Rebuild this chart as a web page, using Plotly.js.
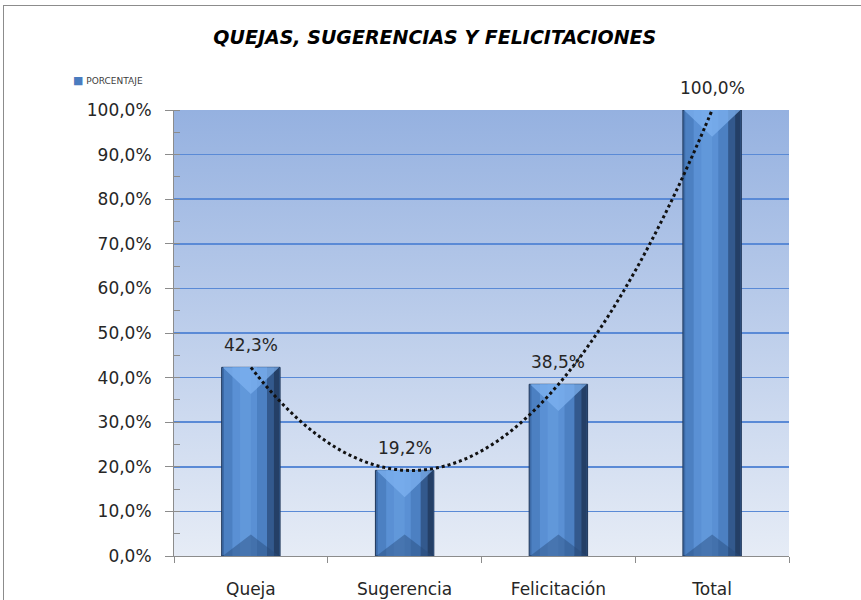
<!DOCTYPE html>
<html>
<head>
<meta charset="utf-8">
<script src="https://cdn.plot.ly/plotly-3.0.1.min.js"></script>
<style>
html,body{margin:0;padding:0;background:#fff;overflow:hidden;}
#frame{position:absolute;left:3px;top:5px;width:900px;height:700px;border-left:1px solid #8c8c8c;border-top:1px solid #8c8c8c;}
#chart{position:absolute;left:0;top:0;width:861px;height:600px;}
</style>
</head>
<body>
<div id="frame"></div>
<div id="chart"></div>
<script>
const categories = ["Queja", "Sugerencia", "Felicitación", "Total"];
const porcentaje = [42.3, 19.2, 38.5, 100.0];
const yTicks = [0, 10, 20, 30, 40, 50, 60, 70, 80, 90, 100];
const yTickText = yTicks.map(v => v.toFixed(1).replace(".", ",") + "%");
const seriesName = "PORCENTAJE";

// Quadratic (order-2 polynomial) trendline fitted to the data, as Excel does
function quadFit(xs, ys) {
  let S = [0,0,0,0,0], T = [0,0,0];
  for (let i = 0; i < xs.length; i++) {
    let p = 1;
    for (let k = 0; k < 5; k++) { S[k] += p; if (k < 3) T[k] += p * ys[i]; p *= xs[i]; }
  }
  const A = [[S[0],S[1],S[2],T[0]],[S[1],S[2],S[3],T[1]],[S[2],S[3],S[4],T[2]]];
  for (let c = 0; c < 3; c++) {
    for (let r = c + 1; r < 3; r++) {
      const f = A[r][c] / A[c][c];
      for (let k = c; k < 4; k++) A[r][k] -= f * A[c][k];
    }
  }
  const sol = [0,0,0];
  for (let r = 2; r >= 0; r--) {
    let s = A[r][3];
    for (let k = r + 1; k < 3; k++) s -= A[r][k] * sol[k];
    sol[r] = s / A[r][r];
  }
  return sol;
}
const idx = categories.map((_, i) => i);
const coef = quadFit(idx, porcentaje);
const trendX = [], trendY = [];
for (let t = 0; t <= 60; t++) {
  const x = (idx.length - 1) * t / 60;
  trendX.push(x);
  trendY.push(coef[0] + coef[1] * x + coef[2] * x * x);
}

const font = "DejaVu Sans, sans-serif";
const barBase = {type: "bar", x: categories, y: porcentaje, hoverinfo: "skip", showlegend: false};

// bar body drawn as overlaid vertical bands to mimic the shaded 3D look
const HALF = 0.19;
const bands = [
  {offset: -0.19, width: 0.38, color: "#3d6ba8", line: {color: "#1f3658", width: 1}},
  {offset: -0.175, width: 0.28, color: "#4c80c2"},
  {offset: -0.12, width: 0.16, color: "#5a90d4"},
  {offset: -0.07, width: 0.07, color: "#6198da"},
  {offset: 0.105, width: 0.06, color: "#33598d"},
  {offset: 0.150, width: 0.035, color: "#243f66"}
];
const traces = bands.map(b => Object.assign({}, barBase, {
  offset: b.offset, width: b.width,
  marker: {color: b.color, line: b.line || {width: 0}}
}));

// bevel facets at top (light) and bottom (dark) of each bar, derived from the values
const BEVEL = 6; // depth in axis units
const topX = [], topY = [], botX = [], botY = [];
idx.forEach((i) => {
  const v = porcentaje[i];
  const d = Math.min(BEVEL, v / 2);
  topX.push(i - HALF + 0.006, i + HALF - 0.006, i, i - HALF + 0.006, null);
  topY.push(v, v, v - d, v, null);
  botX.push(i - HALF + 0.006, i + HALF - 0.006, i, i - HALF + 0.006, null);
  botY.push(0, 0, d * 0.8, 0, null);
});
traces.push({
  type: "scatter", mode: "lines", x: topX, y: topY, xaxis: "x2",
  fill: "toself", fillcolor: "rgba(125,178,240,0.75)", line: {width: 0},
  showlegend: false, hoverinfo: "skip"
});
traces.push({
  type: "scatter", mode: "lines", x: botX, y: botY, xaxis: "x2",
  fill: "toself", fillcolor: "rgba(40,75,125,0.45)", line: {width: 0},
  showlegend: false, hoverinfo: "skip"
});

traces.push({
  type: "scatter", mode: "lines", x: trendX, y: trendY, xaxis: "x2",
  showlegend: false, hoverinfo: "skip", cliponaxis: false,
  line: {color: "#111111", width: 3, dash: "dot", shape: "spline"}
});

const gradSvg = '<svg xmlns="http://www.w3.org/2000/svg" width="10" height="100" preserveAspectRatio="none">' +
  '<defs><linearGradient id="g" x1="0" y1="0" x2="0" y2="1">' +
  '<stop offset="0" stop-color="#95b1e0"/><stop offset="1" stop-color="#e6ecf6"/>' +
  '</linearGradient></defs><rect width="10" height="100" fill="url(#g)"/></svg>';

const annotations = categories.map((c, i) => ({
  x: c, y: porcentaje[i], xref: "x", yref: "y",
  text: porcentaje[i].toFixed(1).replace(".", ",") + "%",
  showarrow: false, yanchor: "bottom", yshift: 10,
  font: {family: font, size: 17, color: "#262626"}
}));
annotations.push({
  xref: "paper", yref: "paper", x: -0.168, y: 1.066, xanchor: "left", yanchor: "middle",
  showarrow: false,
  text: '<span style="color:#4a7cbf;font-size:11px">■</span><span style="font-size:9px"> ' + seriesName + '</span>',
  font: {family: font, size: 9, color: "#404040"}
});

const layout = {
  width: 861, height: 600,
  margin: {l: 174, r: 72, t: 110, b: 44},
  paper_bgcolor: "rgba(0,0,0,0)",
  plot_bgcolor: "rgba(0,0,0,0)",
  barmode: "overlay",
  showlegend: false,
  font: {family: font, size: 17, color: "#262626"},
  title: {
    text: "QUEJAS, SUGERENCIAS Y FELICITACIONES",
    font: {family: font, size: 19, color: "#000", weight: "bold", style: "italic"},
    x: 0.505, xanchor: "center", y: 0.937, yanchor: "middle"
  },
  xaxis: {
    type: "category", range: [-0.5, 3.5],
    showgrid: false, zeroline: false,
    showline: true, linecolor: "#8c8c8c", linewidth: 1,
    ticks: "outside", ticklen: 6, tickcolor: "#8c8c8c", tickson: "boundaries",
    ticklabelstandoff: 18,
    tickfont: {family: font, size: 17, color: "#262626"},
    fixedrange: true
  },
  xaxis2: {
    overlaying: "x", range: [-0.5, 3.5], visible: false, fixedrange: true
  },
  yaxis: {
    range: [0, 100], tickvals: yTicks, ticktext: yTickText,
    showgrid: true, gridcolor: "#5a8ad6", gridwidth: 1.5,
    zeroline: false, showline: true, linecolor: "#8c8c8c", linewidth: 1,
    ticks: "outside", ticklen: 8, tickcolor: "#8c8c8c",
    ticklabelstandoff: 10,
    minor: {dtick: 5, ticks: "inside", ticklen: 6, tickcolor: "#8c8c8c", showgrid: false},
    tickfont: {family: font, size: 17, color: "#262626"},
    fixedrange: true
  },
  annotations: annotations,
  images: [{
    source: "data:image/svg+xml;charset=utf-8," + encodeURIComponent(gradSvg),
    xref: "paper", yref: "paper", x: 0, y: 1, sizex: 1, sizey: 1,
    xanchor: "left", yanchor: "top", sizing: "stretch", layer: "below"
  }]
};

Plotly.newPlot("chart", traces, layout, {displayModeBar: false, staticPlot: true});
</script>
</body>
</html>
